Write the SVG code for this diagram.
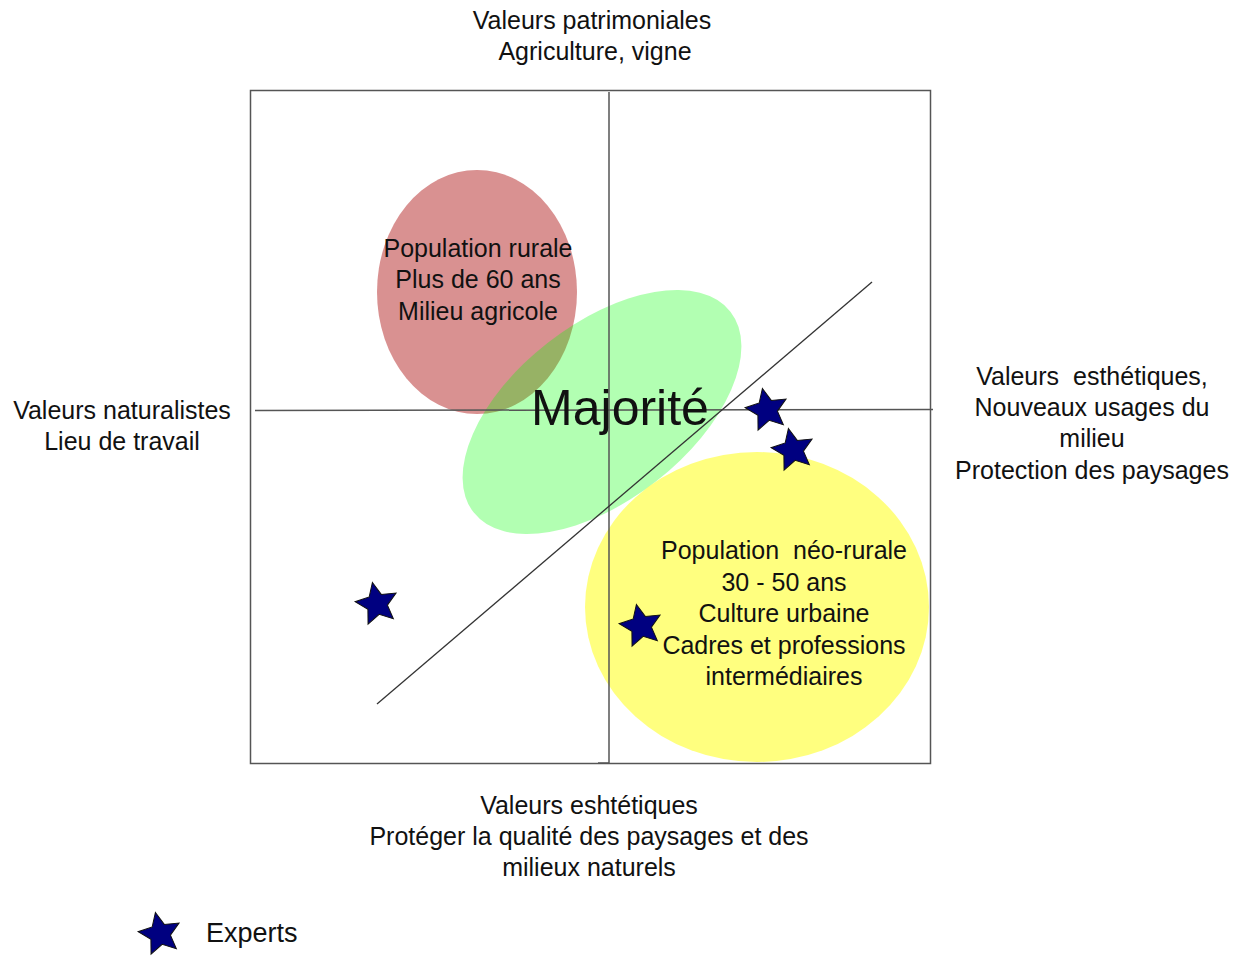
<svg xmlns="http://www.w3.org/2000/svg" width="1241" height="956" viewBox="0 0 1241 956">
  <style>
    text { font-family: "Liberation Sans", Arial, sans-serif; font-size: 25px; fill: #111; text-anchor: middle; }
    .big { font-size: 50px; }
    .frame { fill: none; stroke: #555; stroke-width: 1.5; }
    .axis { stroke: #555; stroke-width: 1.5; fill: none; }
    .diag { stroke: #333; stroke-width: 1.3; fill: none; }
    .star { fill: #000080; stroke: #111; stroke-width: 1; }
  </style>
  <defs>
    <!-- five-pointed star, outer radius 22, inner radius 10.5 -->
    <path id="star" d="M0,-22 L6.17,-8.49 L20.92,-6.8 L9.99,3.24 L12.93,17.8 L0,10.5 L-12.93,17.8 L-9.99,3.24 L-20.92,-6.8 L-6.17,-8.49 Z"/>
  </defs>

  <rect width="1241" height="956" fill="#fff"/>

  <!-- population groups -->
  <g id="rurale">
    <ellipse cx="477" cy="292" rx="100" ry="122" fill="#d99191"/>
  </g>
  <g id="majorite">
    <ellipse cx="602" cy="412" rx="163" ry="88" transform="rotate(-38 602 412)" fill="#00ff00" fill-opacity="0.3"/>
  </g>
  <g id="neorurale">
    <ellipse cx="757" cy="607" rx="172" ry="155" fill="#ffff00" fill-opacity="0.5"/>
  </g>

  <!-- frame and axes -->
  <g id="connectors">
    <rect class="frame" x="250.5" y="90.5" width="680" height="673"/>
    <line class="axis" x1="609" y1="92" x2="609" y2="764"/>
    <line class="axis" x1="598" y1="763" x2="609" y2="763"/>
    <line class="axis" x1="255" y1="410.5" x2="933" y2="409.5"/>
    <line class="diag" x1="377" y1="704" x2="872" y2="282"/>
  </g>

  <!-- group labels -->
  <g id="rurale-label">
    <text x="478" y="257">Population rurale</text>
    <text x="478" y="288">Plus de 60 ans</text>
    <text x="478" y="320">Milieu agricole</text>
  </g>
  <g id="majorite-label">
    <text class="big" x="620" y="425">Majorité</text>
  </g>
  <g id="neorurale-label">
    <text x="784" y="559" xml:space="preserve">Population  néo-rurale</text>
    <text x="784" y="591">30 - 50 ans</text>
    <text x="784" y="622">Culture urbaine</text>
    <text x="784" y="654">Cadres et professions</text>
    <text x="784" y="685">intermédiaires</text>
  </g>

  <!-- axis labels -->
  <g id="top-label">
    <text x="592" y="29">Valeurs patrimoniales</text>
    <text x="595" y="60">Agriculture, vigne</text>
  </g>
  <g id="left-label">
    <text x="122" y="419">Valeurs naturalistes</text>
    <text x="122" y="450">Lieu de travail</text>
  </g>
  <g id="right-label">
    <text x="1092" y="385" xml:space="preserve">Valeurs  esthétiques,</text>
    <text x="1092" y="416">Nouveaux usages du</text>
    <text x="1092" y="447">milieu</text>
    <text x="1092" y="479">Protection des paysages</text>
  </g>
  <g id="bottom-label">
    <text x="589" y="814">Valeurs eshtétiques</text>
    <text x="589" y="845">Protéger la qualité des paysages et des</text>
    <text x="589" y="876">milieux naturels</text>
  </g>

  <!-- experts -->
  <g id="expert-1"><use href="#star" class="star" transform="translate(767 410) rotate(-12)"/></g>
  <g id="expert-2"><use href="#star" class="star" transform="translate(793 450) rotate(-12)"/></g>
  <g id="expert-3"><use href="#star" class="star" transform="translate(377 604) rotate(-12)"/></g>
  <g id="expert-4"><use href="#star" class="star" transform="translate(641 626) rotate(-12)"/></g>

  <!-- legend -->
  <g id="legend">
    <use href="#star" class="star" transform="translate(160 934) rotate(-12)"/>
    <text x="206" y="942" style="text-anchor:start;font-size:27px">Experts</text>
  </g>
</svg>
